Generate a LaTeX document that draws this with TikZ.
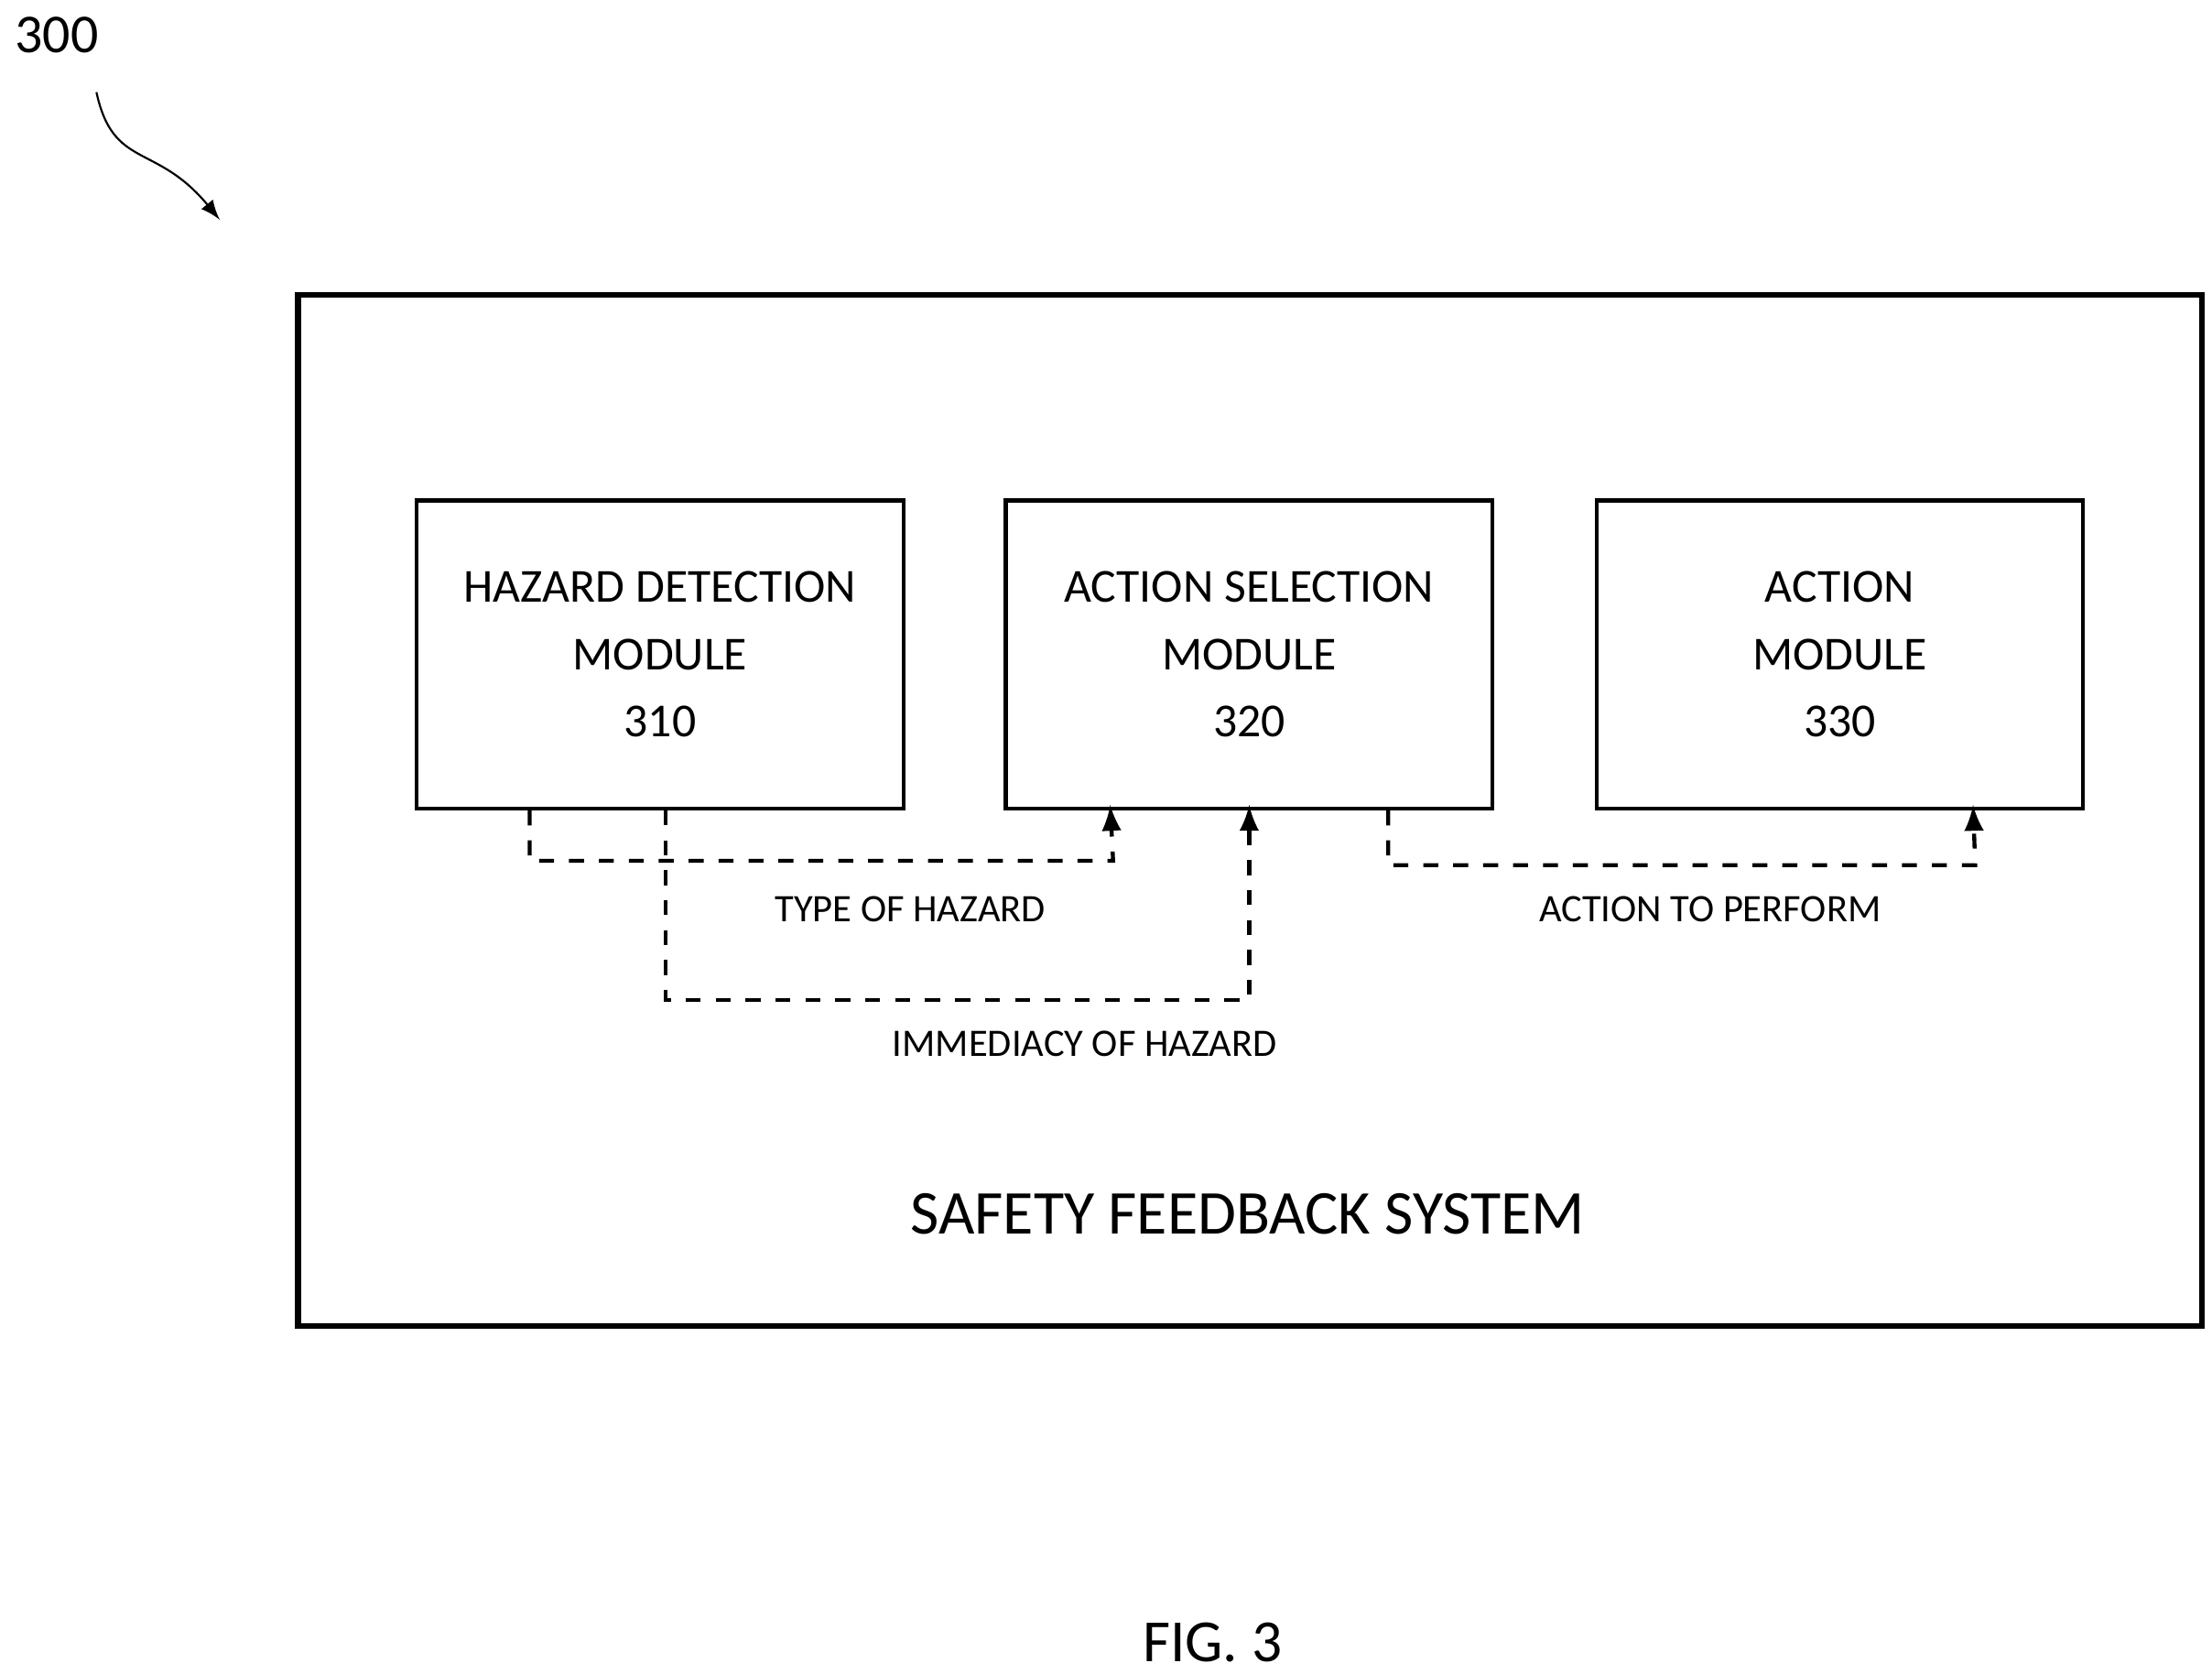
\documentclass[tikz,border=0pt]{standalone}
\usepackage{fontspec}
\setmainfont{Carlito}
\usetikzlibrary{calc}

\begin{document}
\begin{tikzpicture}[x=0.01cm,y=-0.01cm,
    module/.style={draw, thick, minimum width=3.43cm, minimum height=2.17cm, align=center, font=\fontsize{9.5}{13.5}\selectfont},
    flow/.style={thick, dashed, -latex},
    lbl/.style={font=\fontsize{7.8}{9}\selectfont}]
    \useasboundingbox (0,0) rectangle (1560,1180);
    \draw [very thick] (210,208) rectangle (1553,935);
    \node (hd) [module] at (465.5,461.5) {HAZARD DETECTION\\MODULE\\310};
    \node (as) [module] at (881,461.5) {ACTION SELECTION\\MODULE\\320};
    \node (ac) [module] at (1297.5,461.5) {ACTION\\MODULE\\330};
    \draw [flow] ($(hd.south west)+(81,0)$) |- (785,607) -- ($(as.south west)+(75,-4)$);
    \draw [flow] ($(hd.south west)+(177,0)$) |- (881,705) -- ($(as.south)+(0,-4)$);
    \draw [flow] ($(as.south west)+(271,0)$) |- (1393,610) -- ($(ac.south west)+(267,-4)$);
    \node (type) [lbl] at (642,641) {TYPE OF HAZARD};
    \node (imm) [lbl] at (765,736) {IMMEDIACY OF HAZARD};
    \node (todo) [lbl] at (1206,641) {ACTION TO PERFORM};
    \node (sys) [font=\fontsize{12.5}{14}\selectfont] at (880,856) {SAFETY FEEDBACK SYSTEM};
    \node (fig) [font=\fontsize{12}{14}\selectfont] at (855,1158) {FIG. 3};
    \node (ref) [font=\fontsize{11}{13}\selectfont] at (40,25) {300};
    \coordinate (tip) at (155,155);
    \draw [-latex] (68,65) .. controls (80,120) and (110,100) .. (tip);
\end{tikzpicture}
\end{document}
